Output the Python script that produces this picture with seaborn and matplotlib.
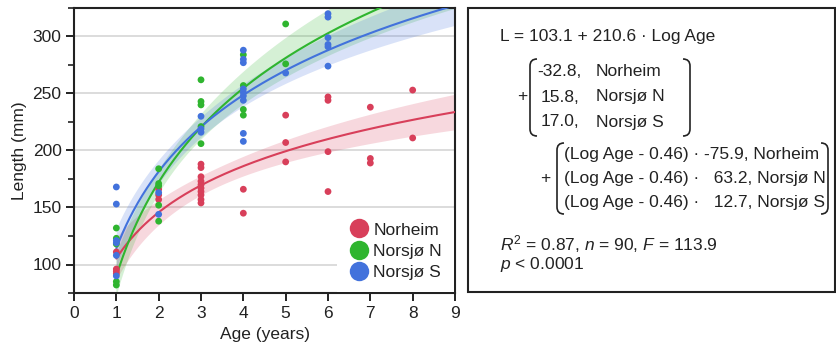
import numpy as np
import pandas as pd
import matplotlib
matplotlib.use("Agg")
import matplotlib.pyplot as plt
from matplotlib.lines import Line2D
from matplotlib.path import Path
from matplotlib.patches import PathPatch, Rectangle
import seaborn as sns

# ---- observations: length (mm) at age (years) per site ----
sites = ["Norheim", "Norsjø N", "Norsjø S"]
site_colors = ["#d83f5a", "#2fb52f", "#4272dc"]

norheim_age = [1, 1, 1, 1, 2, 2, 2, 3, 3, 3, 3, 3, 3, 3, 3, 3, 3,
               4, 4, 5, 5, 5, 6, 6, 6, 6, 7, 7, 7, 8, 8]
norheim_len = [111, 96, 94, 92, 166, 161, 157,
               188, 185, 177, 173, 170, 167, 164, 161, 157, 154,
               166, 145, 231, 207, 190, 247, 244, 199, 164,
               238, 193, 189, 253, 211]

norsjo_n_age = [1, 1, 1, 1, 1, 2, 2, 2, 2, 2, 3, 3, 3, 3, 3, 4, 4, 4, 4, 5, 5]
norsjo_n_len = [132, 123, 118, 85, 82, 184, 171, 169, 152, 138,
                262, 243, 240, 221, 206, 284, 257, 236, 231, 311, 276]

norsjo_s_age = [1, 1, 1, 1, 1, 1, 2, 2, 3, 3, 3,
                4, 4, 4, 4, 4, 4, 4, 4, 4, 5, 6, 6, 6, 6, 6, 6]
norsjo_s_len = [168, 153, 121, 119, 108, 90, 163, 144, 230, 219, 216,
                288, 280, 277, 254, 251, 248, 244, 215, 208, 268,
                320, 317, 299, 293, 291, 274]

# ---- fitted model: L = a + b*log10(Age) + offset + (log10(Age) - c)*slope ----
intercept = 103.1
log_slope = 210.6
log_center = 0.46
site_offsets = [-32.8, 15.8, 17.0]
site_slopes = [-75.9, 63.2, 12.7]
r_squared, n_obs, f_stat = 0.87, 90, 113.9

obs = pd.DataFrame({
    "age": norheim_age + norsjo_n_age + norsjo_s_age,
    "length": norheim_len + norsjo_n_len + norsjo_s_len,
    "site": (["Norheim"] * len(norheim_age) + ["Norsjø N"] * len(norsjo_n_age)
             + ["Norsjø S"] * len(norsjo_s_age)),
})


def model(age, k):
    lx = np.log10(age)
    return (intercept + log_slope * lx + site_offsets[k]
            + (lx - log_center) * site_slopes[k])


# pooled residual scale for the confidence bands of the fitted means
obs["fit"] = [model(a, sites.index(s)) for a, s in zip(obs["age"], obs["site"])]
resid = obs["length"] - obs["fit"]
s_pool = np.sqrt((resid ** 2).sum() / (len(obs) - 6))
t_crit = 1.99

age_grid = np.linspace(1, 9, 300)
curves = []
for k, site in enumerate(sites):
    sub = obs[obs["site"] == site]
    lx_obs = np.log10(sub["age"].to_numpy(dtype=float))
    lx = np.log10(age_grid)
    se = s_pool * np.sqrt(1 / len(lx_obs)
                          + (lx - lx_obs.mean()) ** 2 / ((lx_obs - lx_obs.mean()) ** 2).sum())
    fit = model(age_grid, k)
    curves.append(pd.DataFrame({"age": age_grid, "length": fit,
                                "lo": fit - t_crit * se, "hi": fit + t_crit * se,
                                "site": site}))
curves = pd.concat(curves, ignore_index=True)

# ---- figure ----
sns.set_theme(style="ticks")
plt.rcParams["font.family"] = ["Liberation Sans", "DejaVu Sans"]
plt.rcParams["mathtext.fontset"] = "custom"
plt.rcParams["mathtext.rm"] = "Liberation Sans"
plt.rcParams["mathtext.it"] = "Liberation Sans:italic"

W, H = 837, 343
fig = plt.figure(figsize=(W / 100, H / 100), dpi=100)

# text panel in pixel coordinates
tx = fig.add_axes([0, 0, 1, 1])
tx.set_xlim(0, W)
tx.set_ylim(H, 0)
tx.axis("off")

ax = fig.add_axes([74 / W, 1 - 293 / H, (455 - 74) / W, (293 - 8) / H])
palette = dict(zip(sites, site_colors))

for k, site in enumerate(sites):
    c = curves[curves["site"] == site]
    ax.fill_between(c["age"], c["lo"], c["hi"], color=site_colors[k],
                    alpha=0.2, linewidth=0, zorder=2)
sns.lineplot(data=curves, x="age", y="length", hue="site", palette=palette,
             linewidth=1.5, legend=False, ax=ax, zorder=3)
sns.scatterplot(data=obs, x="age", y="length", hue="site", palette=palette,
                s=24, linewidth=0, legend=False, ax=ax, zorder=4)

ax.set_xlim(0, 9)
ax.set_ylim(75, 325)
ax.set_xticks(range(0, 10))
ax.set_yticks([100, 150, 200, 250, 300])
ax.set_yticks(np.arange(75, 326, 25), minor=True)
ax.yaxis.grid(True, which="major", color="#dcdcdc", linewidth=1.4)
ax.set_axisbelow(True)
for sp in ax.spines.values():
    sp.set_visible(True)
    sp.set_color("#222222")
    sp.set_linewidth(1.5)
ax.tick_params(axis="both", which="major", direction="out", length=6, width=1.4,
               color="#222222", labelsize=12.5, labelcolor="#222222", pad=3)
ax.tick_params(axis="y", which="minor", direction="out", length=4, width=1.2,
               color="#222222")
ax.tick_params(axis="x", which="minor", bottom=False)
ax.set_xlabel("Age (years)", fontsize=12.5, color="#222222", labelpad=5)
ax.set_ylabel("Length (mm)", fontsize=12.5, color="#222222", labelpad=4)

handles = [Line2D([], [], marker="o", linestyle="", markersize=14,
                  markerfacecolor=c, markeredgewidth=0) for c in site_colors]
leg = ax.legend(handles, sites, loc="lower right", fontsize=12.5, frameon=True,
                facecolor="white", edgecolor="none", framealpha=1, fancybox=False,
                borderaxespad=0.05, handletextpad=0.3, labelspacing=0.35,
                handlelength=1.1, borderpad=0.7)
for t in leg.get_texts():
    t.set_color("#222222")

# ---- equation box ----
ink = "#222222"
fs = 12.5
tx.add_patch(Rectangle((468, 8), 367, 284, fill=False, edgecolor=ink, linewidth=1.5))


def bracket(x, y0, y1, side):
    r = 7
    d = r if side == "left" else -r
    verts = [(x + d, y0), (x, y0), (x, y0 + r), (x, y1 - r), (x, y1), (x + d, y1)]
    codes = [Path.MOVETO, Path.CURVE3, Path.CURVE3, Path.LINETO, Path.CURVE3, Path.CURVE3]
    tx.add_patch(PathPatch(Path(verts, codes), fill=False, edgecolor=ink, linewidth=1.2))


tx.text(500, 37, "L = 103.1 + 210.6 · Log Age", fontsize=fs, color=ink, va="center")

tx.text(517, 97, "+", fontsize=fs, color=ink, va="center")
bracket(530, 59, 136, "left")
bracket(690, 59, 136, "right")
for y, off, site in zip([72, 97, 122], site_offsets, sites):
    tx.text(537 if off < 0 else 541, y, f"{off:.1f},", fontsize=fs, color=ink, va="center")
    tx.text(596, y, site, fontsize=fs, color=ink, va="center")

tx.text(540, 179, "+", fontsize=fs, color=ink, va="center")
bracket(557, 143, 214, "left")
bracket(828, 143, 214, "right")
for y, sl, site in zip([155, 178, 202], site_slopes, sites):
    num = f"{sl:.1f}" if sl < 0 else f"  {sl:.1f}"
    tx.text(564, y, f"(Log Age - {log_center:.2f}) · {num}, {site}",
            fontsize=fs, color=ink, va="center")

tx.text(500, 244, f"$R^2$ = {r_squared:.2f}, $n$ = {n_obs}, $F$ = {f_stat:.1f}",
        fontsize=fs, color=ink, va="center")
tx.text(500, 265, "$p$ < 0.0001", fontsize=fs, color=ink, va="center")

fig.savefig("out.png", dpi=100)
